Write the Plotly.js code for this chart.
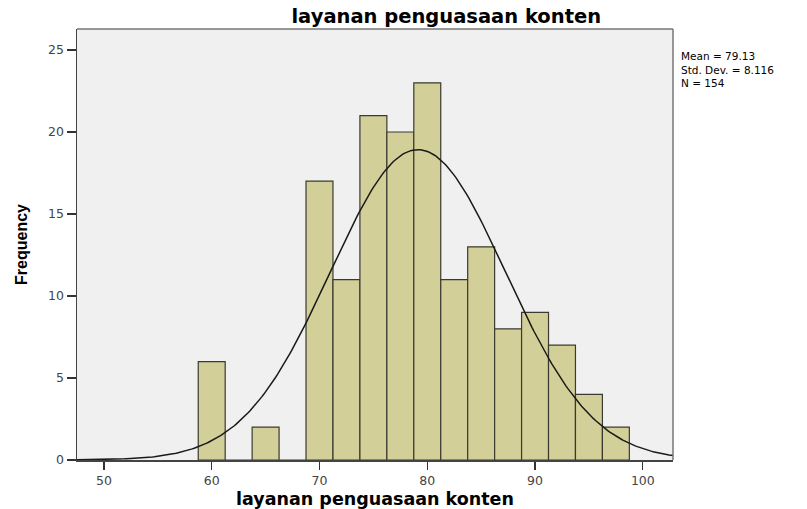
<!DOCTYPE html>
<html>
<head>
<meta charset="utf-8">
<script src="https://cdn.plot.ly/plotly-3.0.1.min.js"></script>
<style>html,body{margin:0;padding:0;background:#fff;}#chart{width:807px;height:509px;}</style>
</head>
<body>
<div id="chart"></div>
<script>
var binCenters = [60, 62.5, 65, 67.5, 70, 72.5, 75, 77.5, 80, 82.5, 85, 87.5, 90, 92.5, 95, 97.5];
var frequencies = [6, 0, 2, 0, 17, 11, 21, 20, 23, 11, 13, 8, 9, 7, 4, 2];
var binWidth = 2.5;
var mean = 79.13;
var stdDev = 8.116;
var nObs = 154;
var xTicks = [50, 60, 70, 80, 90, 100];
var yTicks = [0, 5, 10, 15, 20, 25];
var statLines = ['Mean = 79.13', 'Std. Dev. = 8.116', 'N = 154'];

// fitted normal curve defined by the reported statistics
var curveX = [], curveY = [];
for (var i = 0; i <= 300; i++) {
  var x = 47.5 + (102.8 - 47.5) * i / 300;
  curveX.push(x);
  var z = (x - mean) / stdDev;
  curveY.push(nObs * binWidth / (stdDev * Math.sqrt(2 * Math.PI)) * Math.exp(-0.5 * z * z));
}

var bars = {
  type: 'bar', x: binCenters, y: frequencies, width: binWidth,
  marker: {color: '#d3cf98', line: {color: '#3a3a30', width: 1.2}},
  hoverinfo: 'x+y', showlegend: false
};
var curve = {
  type: 'scatter', mode: 'lines', x: curveX, y: curveY,
  line: {color: '#1a1a1a', width: 1.5}, hoverinfo: 'skip', showlegend: false
};

var plotTop = 29, plotH = 509 - 29 - 49;

var layout = {
  width: 807, height: 509,
  margin: {l: 77, r: 134, t: 29, b: 49},
  paper_bgcolor: '#ffffff', plot_bgcolor: '#f0f0f0',
  title: {text: '<b>layanan penguasaan konten</b>', font: {family: 'DejaVu Sans', size: 19.5, color: '#000'}, x: 0.553, xanchor: 'center', y: 1 - 16 / 509, yanchor: 'middle', xref: 'container', yref: 'container'},
  xaxis: {
    range: [47.5, 102.8], tickvals: xTicks, ticktext: xTicks.map(String),
    ticks: 'outside', ticklen: 8, tickcolor: '#333', tickwidth: 1.2,
    showgrid: false, zeroline: false, showline: true, linecolor: '#444', linewidth: 1.5, mirror: false,
    tickfont: {family: 'DejaVu Sans', size: 12.5, color: '#444'},
    title: {text: '<b>layanan penguasaan konten</b>', font: {family: 'DejaVu Sans', size: 17.5, color: '#000'}, standoff: 9}
  },
  yaxis: {
    range: [0, 26.28], tickvals: yTicks, ticktext: yTicks.map(String),
    ticks: 'outside', ticklen: 9, tickcolor: '#333', tickwidth: 1.2,
    showgrid: false, zeroline: false, showline: true, linecolor: '#444', linewidth: 1.5,
    tickfont: {family: 'DejaVu Sans', size: 12.5, color: '#444'},
    title: {text: '<b>Frequency</b>', font: {family: 'Liberation Sans, Arial', size: 16, color: '#000'}, standoff: 16}
  },
  shapes: [
    {type: 'line', xref: 'paper', yref: 'paper', x0: 0, x1: 1, y0: 1, y1: 1, line: {color: '#777', width: 1.5}},
    {type: 'line', xref: 'paper', yref: 'paper', x0: 1, x1: 1, y0: 0, y1: 1, line: {color: '#777', width: 1.5}}
  ],
  annotations: [{
    xref: 'paper', yref: 'paper', x: 1.012, y: 1 - (69 - plotTop) / plotH,
    xanchor: 'left', yanchor: 'middle', align: 'left', showarrow: false, borderpad: 0,
    text: statLines.join('<br>'), font: {family: 'DejaVu Sans', size: 10.5, color: '#000'}
  }],
  bargap: 0
};

Plotly.newPlot('chart', [bars, curve], layout, {displayModeBar: false, staticPlot: true});
</script>
</body>
</html>
